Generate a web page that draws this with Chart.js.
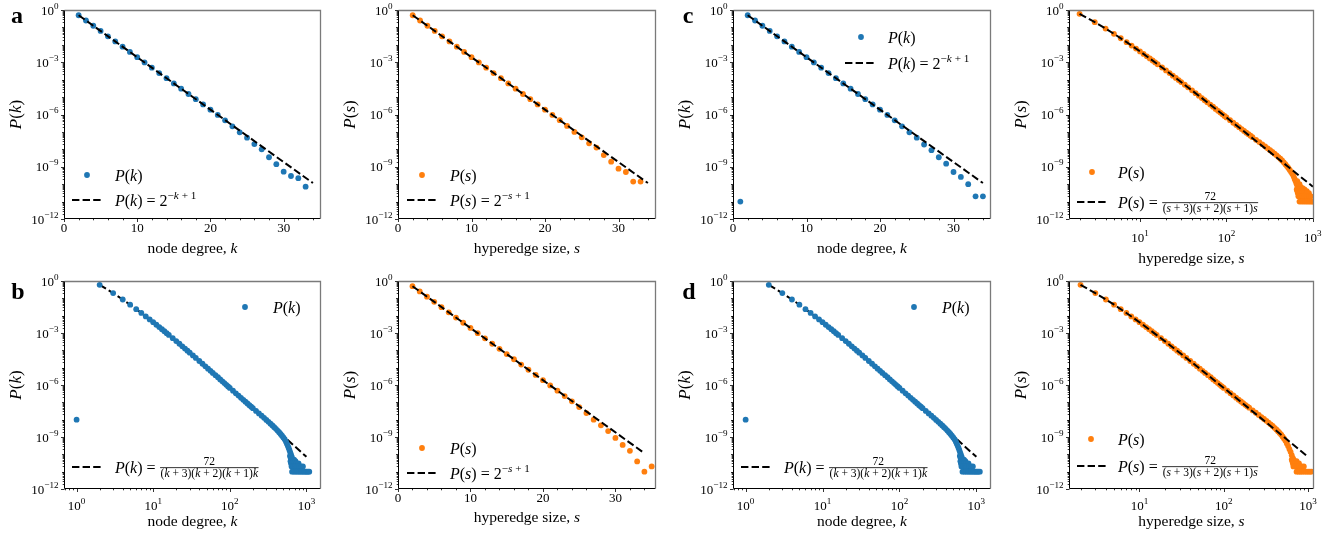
<!DOCTYPE html>
<html><head><meta charset="utf-8">
<script src="https://cdn.jsdelivr.net/npm/chart.js@4.4.1/dist/chart.umd.min.js"></script>
<style>
html,body{margin:0;padding:0;background:#fff;}
#wrap{position:relative;width:1338px;height:533px;overflow:hidden;background:#fff;}
canvas{position:absolute;}
</style></head><body><div id="wrap"></div>
<script>
// ================= DATA =================
// Panel a, node degree (linear x)
const aNodeDegree = [2,3,4,5,6,7,8,9,10,11,12,13,14,15,16,17,18,19,20,21,22,23,24,25,26,27,28,29,30,31,32,33];
const aNodeProb = [0.5,0.25,0.125,0.0625,0.031,0.0156,0.0078,0.0039,0.00195,9.8e-4,4.9e-4,2.4e-4,1.22e-4,6.1e-5,3.05e-5,1.5e-5,7.6e-6,3.8e-6,1.9e-6,9.4e-7,4.6e-7,2.1e-7,9.5e-8,4.7e-8,2.0e-8,1.0e-8,3.5e-9,1.4e-9,5.2e-10,2.95e-10,2.2e-10,7.2e-11];
// Panel a, hyperedge size (linear x)
const aHyperSize = [2,3,4,5,6,7,8,9,10,11,12,13,14,15,16,17,18,19,20,21,22,23,24,25,26,27,28,29,30,31,32,33];
const aHyperProb = [0.5,0.25,0.125,0.0625,0.031,0.0156,0.0078,0.0039,0.00195,9.8e-4,4.9e-4,2.4e-4,1.22e-4,6.1e-5,3.05e-5,1.5e-5,7.6e-6,3.8e-6,1.9e-6,9.5e-7,4.7e-7,2.2e-7,1.0e-7,4.9e-8,2.2e-8,1.26e-8,4.7e-9,1.95e-9,7.8e-10,5.0e-10,1.4e-10,1.4e-10];
// Panel c, node degree (linear x)
const cNodeDegree = [1,2,3,4,5,6,7,8,9,10,11,12,13,14,15,16,17,18,19,20,21,22,23,24,25,26,27,28,29,30,31,32,33,34];
const cNodeProb = [1e-11,0.5,0.25,0.125,0.0625,0.031,0.0156,0.0078,0.0039,0.00195,9.8e-4,4.9e-4,2.4e-4,1.22e-4,6.1e-5,3.05e-5,1.5e-5,7.6e-6,3.8e-6,1.9e-6,9.4e-7,4.6e-7,2.1e-7,9.5e-8,4.7e-8,1.9e-8,9.0e-9,3.5e-9,1.5e-9,5.0e-10,2.6e-10,1.0e-10,2.0e-11,2.0e-11];
// Panel b, hyperedge size (linear x)
const bHyperSize = [2,3,4,5,6,7,8,9,10,11,12,13,14,15,16,17,18,19,20,21,22,23,24,25,26,27,28,29,30,31,32,33,34,35];
const bHyperProb = [0.5,0.25,0.125,0.0625,0.031,0.0156,0.0078,0.0039,0.00195,9.8e-4,4.9e-4,2.4e-4,1.22e-4,6.1e-5,3.05e-5,1.5e-5,7.6e-6,3.8e-6,1.9e-6,9.5e-7,4.7e-7,2.3e-7,1.15e-7,5.3e-8,2.4e-8,1.0e-8,4.7e-9,2.2e-9,8.9e-10,3.5e-10,1.6e-10,3.9e-11,1.0e-11,2.0e-11];
// Panel b, node degree (log x)
const bNodeDegree = [1,2,3,4,5,6,7,8,9,10,11,12,13,14,15,16,18,20,22,24,26,28,30,33,36,40,44,48,52,56,60,65,70,75,80,85,90,95,100,110,120,130,140,150,160,170,180,190,200,220,240,260,280,300,320,340,360,380,400,420,440,460,480,500,520,540,555,570,585,600,615,630,645,660,610,625,640,690,620,650,680,720,630,660,700,740,790,640,670,710,750,800,850,900,650,690,730,770,810,850,890,930,970,1010,1050,1090];
const bNodeProb = [1e-8,0.6,0.2,0.0857,0.0429,0.0238,0.0143,9.1e-3,6.1e-3,4.2e-3,3.0e-3,2.2e-3,1.65e-3,1.26e-3,9.8e-4,7.7e-4,5.0e-4,3.4e-4,2.4e-4,1.7e-4,1.26e-4,9.5e-5,7.3e-5,5.1e-5,3.65e-5,2.43e-5,1.68e-5,1.2e-5,8.8e-6,6.6e-6,5.0e-6,3.7e-6,2.8e-6,2.1e-6,1.63e-6,1.29e-6,1.03e-6,8.3e-7,6.8e-7,4.7e-7,3.3e-7,2.45e-7,1.83e-7,1.4e-7,1.09e-7,8.6e-8,6.9e-8,5.6e-8,4.6e-8,3.2e-8,2.3e-8,1.7e-8,1.27e-8,9.7e-9,7.5e-9,5.9e-9,4.6e-9,3.7e-9,2.95e-9,2.35e-9,1.9e-9,1.5e-9,1.2e-9,9.5e-10,7.5e-10,5.5e-10,4.2e-10,3.2e-10,2.4e-10,1.8e-10,1.3e-10,9.5e-11,7e-11,5e-11,8e-11,6e-11,5e-11,5e-11,4e-11,4e-11,4e-11,4e-11,3e-11,3e-11,3e-11,3e-11,3e-11,2e-11,2e-11,2e-11,2e-11,2e-11,2e-11,2e-11,1e-11,1e-11,1e-11,1e-11,1e-11,1e-11,1e-11,1e-11,1e-11,1e-11,1e-11,1e-11];
// Panel d, node degree (log x)
const dNodeDegree = [1,2,3,4,5,6,7,8,9,10,11,12,13,14,15,16,18,20,22,24,26,28,30,33,36,40,44,48,52,56,60,65,70,75,80,85,90,95,100,110,120,130,140,150,160,170,180,190,200,220,240,260,280,300,320,340,360,380,400,420,440,460,480,500,520,540,555,570,585,600,615,630,645,660,610,625,640,690,620,650,680,720,630,660,700,740,790,640,670,710,750,800,850,900,660,700,740,780,820,860,900,940,980,1020,1060,1110];
const dNodeProb = [1e-8,0.6,0.2,0.0857,0.0429,0.0238,0.0143,9.1e-3,6.1e-3,4.2e-3,3.0e-3,2.2e-3,1.65e-3,1.26e-3,9.8e-4,7.7e-4,5.0e-4,3.4e-4,2.4e-4,1.7e-4,1.26e-4,9.5e-5,7.3e-5,5.1e-5,3.65e-5,2.43e-5,1.68e-5,1.2e-5,8.8e-6,6.6e-6,5.0e-6,3.7e-6,2.8e-6,2.1e-6,1.63e-6,1.29e-6,1.03e-6,8.3e-7,6.8e-7,4.7e-7,3.3e-7,2.45e-7,1.83e-7,1.4e-7,1.09e-7,8.6e-8,6.9e-8,5.6e-8,4.6e-8,3.2e-8,2.3e-8,1.7e-8,1.27e-8,9.7e-9,7.5e-9,5.9e-9,4.6e-9,3.7e-9,2.95e-9,2.35e-9,1.9e-9,1.5e-9,1.2e-9,9.5e-10,7.5e-10,5.5e-10,4.2e-10,3.2e-10,2.4e-10,1.8e-10,1.3e-10,9.5e-11,7e-11,5e-11,8e-11,6e-11,5e-11,5e-11,4e-11,4e-11,4e-11,4e-11,3e-11,3e-11,3e-11,3e-11,3e-11,2e-11,2e-11,2e-11,2e-11,2e-11,2e-11,2e-11,1e-11,1e-11,1e-11,1e-11,1e-11,1e-11,1e-11,1e-11,1e-11,1e-11,1e-11,1e-11];
// Panel c, hyperedge size (log x)
const cHyperSize = [2,3,4,5,6,7,8,9,10,11,12,13,14,15,16,18,20,22,24,26,28,30,33,36,40,44,48,52,56,60,65,70,75,80,85,90,95,100,110,120,130,140,150,160,170,180,190,200,220,240,260,280,300,320,340,360,380,400,420,440,460,480,500,520,540,560,580,600,615,630,645,660,675,690,660,700,720,760,800,850,900,650,680,720,660,700,740,780,670,710,750,800,850,680,720,760,800,850,900,950,700,740,780,820,860,900,940,980,1010];
const cHyperProb = [0.6,0.2,0.0857,0.0429,0.0238,0.0143,9.1e-3,6.1e-3,4.2e-3,3.0e-3,2.2e-3,1.65e-3,1.26e-3,9.8e-4,7.7e-4,5.0e-4,3.4e-4,2.4e-4,1.7e-4,1.26e-4,9.5e-5,7.3e-5,5.1e-5,3.65e-5,2.43e-5,1.68e-5,1.2e-5,8.8e-6,6.6e-6,5.0e-6,3.7e-6,2.8e-6,2.1e-6,1.63e-6,1.29e-6,1.03e-6,8.3e-7,6.8e-7,4.7e-7,3.35e-7,2.5e-7,1.88e-7,1.45e-7,1.14e-7,9.1e-8,7.4e-8,6.1e-8,5.0e-8,3.5e-8,2.6e-8,1.95e-8,1.48e-8,1.15e-8,9.0e-9,7.1e-9,5.6e-9,4.5e-9,3.6e-9,2.9e-9,2.3e-9,1.8e-9,1.4e-9,1.1e-9,8.5e-10,6.5e-10,5.0e-10,3.8e-10,2.8e-10,2.0e-10,1.5e-10,1.1e-10,8e-11,6e-11,4.5e-11,1.5e-10,1.0e-10,7e-11,6e-11,5e-11,4e-11,3e-11,5e-11,5e-11,5e-11,4e-11,4e-11,4e-11,4e-11,3e-11,3e-11,3e-11,3e-11,3e-11,2e-11,2e-11,2e-11,2e-11,2e-11,2e-11,2e-11,1e-11,1e-11,1e-11,1e-11,1e-11,1e-11,1e-11,1e-11,1e-11];
// Panel d, hyperedge size (log x)
const dHyperSize = [2,3,4,5,6,7,8,9,10,11,12,13,14,15,16,18,20,22,24,26,28,30,33,36,40,44,48,52,56,60,65,70,75,80,85,90,95,100,110,120,130,140,150,160,170,180,190,200,220,240,260,280,300,320,340,360,380,400,420,440,460,480,500,520,540,560,580,600,620,640,660,640,670,650,690,730,660,700,740,780,670,710,750,790,840,890,730,770,810,850,900,950,1000,1050,1100];
const dHyperProb = [0.6,0.2,0.0857,0.0429,0.0238,0.0143,9.1e-3,6.1e-3,4.2e-3,3.0e-3,2.2e-3,1.65e-3,1.26e-3,9.8e-4,7.7e-4,5.0e-4,3.4e-4,2.4e-4,1.7e-4,1.26e-4,9.5e-5,7.3e-5,5.1e-5,3.65e-5,2.43e-5,1.68e-5,1.2e-5,8.8e-6,6.6e-6,5.0e-6,3.7e-6,2.8e-6,2.1e-6,1.63e-6,1.29e-6,1.03e-6,8.3e-7,6.8e-7,4.7e-7,3.35e-7,2.5e-7,1.86e-7,1.43e-7,1.12e-7,8.9e-8,7.2e-8,5.9e-8,4.9e-8,3.4e-8,2.5e-8,1.88e-8,1.42e-8,1.1e-8,8.6e-9,6.8e-9,5.4e-9,4.3e-9,3.4e-9,2.7e-9,2.15e-9,1.7e-9,1.35e-9,1.05e-9,8e-10,6e-10,4.2e-10,3e-10,2e-10,1.4e-10,9e-11,6e-11,5e-11,5e-11,4e-11,4e-11,4e-11,3e-11,3e-11,3e-11,3e-11,2e-11,2e-11,2e-11,2e-11,2e-11,2e-11,1e-11,1e-11,1e-11,1e-11,1e-11,1e-11,1e-11,1e-11,1e-11];
// Fitted curves: P = 2^(-k+1) (straight on log-y) and P = 72/((k+3)(k+2)(k+1)k)
const expFitX = [2, 34];
const expFitY = [0.5, 1.16e-10];
const ratFitX = [2,3,4,5,7,10,20,50,100,200,500,1000];
const ratFitY = [0.6,0.2,0.0857,0.0429,0.0143,4.2e-3,3.39e-4,1.02e-5,6.79e-7,4.37e-8,1.14e-9,7.16e-11];
// Tick labels
const yTickExps = [0,-3,-6,-9,-12];
const xLinTicks = [0,10,20,30];
const xLogTickExps = [0,1,2,3];

// ================= RENDERING =================
const BLUE = '#1f77b4', ORANGE = '#ff7f0e';
const SERIF = "'Liberation Serif','DejaVu Serif','Times New Roman',serif";
const TICK = 13, LEG = 16, TITLE = 15.5, YTITLE = 17;
function fnt(sz, it, b){ return (it?'italic ':'') + (b?'bold ':'') + sz + 'px ' + SERIF; }
function rich(ctx, segs, x, y, size, draw) {
  let cx = x;
  for (const s of segs) {
    if (s.frac) {
      const fs = size * 0.72;
      ctx.font = fnt(fs, false);
      const nw = ctx.measureText(s.frac[0]).width;
      const dw = rich(ctx, s.frac[1], 0, 0, fs, false);
      const fw = Math.max(nw, dw) + 2;
      if (draw) {
        const ax = y - size * 0.3;
        ctx.font = fnt(fs, false);
        ctx.fillText(s.frac[0], cx + (fw - nw) / 2, ax - fs * 0.25);
        ctx.fillRect(cx + 0.5, ax - 0.4, fw - 1, 0.8);
        rich(ctx, s.frac[1], cx + (fw - dw) / 2, ax + fs * 0.82, fs, true);
      }
      cx += fw;
    } else {
      const fs = s.sup ? size * 0.7 : size;
      ctx.font = fnt(fs, s.i);
      const w = ctx.measureText(s.t).width;
      if (draw) ctx.fillText(s.t, cx, s.sup ? y - size * 0.42 : y);
      cx += w;
    }
  }
  return cx - x;
}
const PofK = [{t:'P',i:1},{t:'('},{t:'k',i:1},{t:')'}];
const PofS = [{t:'P',i:1},{t:'('},{t:'s',i:1},{t:')'}];
function expLabel(P, v){ return [...P, {t:' = '}, {t:'2'}, {t:'\u2212',sup:1}, {t:v,i:1,sup:1}, {t:' + 1',sup:1}]; }
function fracLabel(P, v){ return [...P, {t:' = '}, {frac:['72', [{t:'('},{t:v,i:1},{t:' + 3)('},{t:v,i:1},{t:' + 2)('},{t:v,i:1},{t:' + 1)'},{t:v,i:1}]]}]; }

function drawPow(ctx, e, x, y, align, size) {
  const base = '10', ex = (e < 0 ? '\u2212' : '') + Math.abs(e);
  ctx.font = fnt(size); const bw = ctx.measureText(base).width;
  ctx.font = fnt(size * 0.7); const ew = ctx.measureText(ex).width;
  const tw = bw + ew;
  let x0 = align === 'right' ? x - tw : x - tw / 2;
  ctx.font = fnt(size); ctx.fillText(base, x0, y);
  ctx.font = fnt(size * 0.7); ctx.fillText(ex, x0 + bw, y - size * 0.45);
}

const mplPlugin = {
  id: 'mpl',
  afterDraw(chart) {
    const p = chart.options.plugins.mpl;
    const ctx = chart.ctx, ca = chart.chartArea, xs = chart.scales.x, ys = chart.scales.y;
    ctx.save();
    ctx.fillStyle = '#000'; ctx.textAlign = 'left'; ctx.textBaseline = 'alphabetic';
    const L = Math.round(ca.left) + 0.5, R = Math.round(ca.right) - 0.5, T = Math.round(ca.top) + 0.5, B = Math.round(ca.bottom) - 0.5;
    // legend
    const lg = p.legend;
    ctx.fillStyle = p.color;
    ctx.beginPath(); ctx.arc(ca.left + lg.dot[0], ca.top + lg.dot[1], 2.9, 0, Math.PI * 2); ctx.fill();
    ctx.fillStyle = '#000';
    rich(ctx, p.lab1, ca.left + lg.t1x, ca.top + lg.dot[1] + 5.5, LEG, true);
    ctx.strokeStyle = '#000'; ctx.lineWidth = 2; ctx.setLineDash([7.4, 3.2]);
    ctx.beginPath(); ctx.moveTo(ca.left + lg.dash[0], ca.top + lg.dash[2]); ctx.lineTo(ca.left + lg.dash[1], ca.top + lg.dash[2]); ctx.stroke();
    ctx.setLineDash([]);
    rich(ctx, p.lab2, ca.left + lg.t2x, ca.top + lg.dash[2] + 5.5, LEG, true);
    // spines
    ctx.lineWidth = 1; ctx.strokeStyle = '#000';
    ctx.beginPath(); ctx.moveTo(L, T); ctx.lineTo(L, B); ctx.lineTo(R, B); ctx.stroke();
    ctx.strokeStyle = '#7a7a7a'; ctx.lineWidth = 1.3;
    ctx.beginPath(); ctx.moveTo(L, T); ctx.lineTo(R, T); ctx.lineTo(R, B); ctx.stroke();
    // y ticks
    ctx.strokeStyle = '#000'; ctx.lineWidth = 0.8;
    for (let e = 0; e >= -12; e--) {
      for (let m = 1; m <= 9; m++) {
        const v = m * Math.pow(10, e);
        if (v > 1.0001 || v < 0.999e-12) continue;
        const py = Math.round(ys.getPixelForValue(v)) + 0.5;
        const len = (m === 1 && e % 3 === 0) ? 3.5 : (m === 1 ? 2.5 : 1.8);
        ctx.beginPath(); ctx.moveTo(L, py); ctx.lineTo(L - len, py); ctx.stroke();
      }
    }
    ctx.fillStyle = '#000';
    for (const e of yTickExps) drawPow(ctx, e, L - 6, ys.getPixelForValue(Math.pow(10, e)) + 4.5, 'right', TICK);
    // x ticks
    if (p.xLog) {
      for (let e = -1; e <= 3; e++) for (let m = 1; m <= 9; m++) {
        const v = m * Math.pow(10, e);
        if (v < xs.min || v > xs.max) continue;
        const px = Math.round(xs.getPixelForValue(v)) + 0.5;
        const len = m === 1 ? 3.5 : 1.8;
        ctx.beginPath(); ctx.moveTo(px, B); ctx.lineTo(px, B + len); ctx.stroke();
      }
      for (const e of xLogTickExps) {
        const v = Math.pow(10, e); if (v < xs.min || v > xs.max) continue;
        drawPow(ctx, e, xs.getPixelForValue(v), B + p.xLabOff, 'center', TICK);
      }
    } else {
      for (let v = 0; v <= xs.max; v += 2) {
        const px = Math.round(xs.getPixelForValue(v)) + 0.5;
        const len = v % 10 === 0 ? 3.5 : 1.8;
        ctx.beginPath(); ctx.moveTo(px, B); ctx.lineTo(px, B + len); ctx.stroke();
      }
      ctx.font = fnt(TICK); ctx.textAlign = 'center';
      for (const v of xLinTicks) ctx.fillText(String(v), xs.getPixelForValue(v), B + p.xLabOff);
      ctx.textAlign = 'left';
    }
    // x title
    const xt = p.xTitle;
    const xw = rich(ctx, xt, 0, 0, TITLE, false);
    rich(ctx, xt, (ca.left + ca.right) / 2 - xw / 2, B + p.xTitleOff, TITLE, true);
    // y title
    ctx.save();
    ctx.translate(ca.left - 43, (ca.top + ca.bottom) / 2);
    ctx.rotate(-Math.PI / 2);
    const yw = rich(ctx, p.yTitle, 0, 0, YTITLE, false);
    rich(ctx, p.yTitle, -yw / 2, 0, YTITLE, true);
    ctx.restore();
    // panel letter
    if (p.letter) {
      ctx.font = fnt(24, false, true); ctx.textAlign = 'center';
      ctx.fillText(p.letter, p.letterX, p.letterY);
    }
    ctx.restore();
  }
};

const cols = [{cl:0, cw:335, left:64, right:321}, {cl:335, cw:335, left:398, right:656}, {cl:670, cw:335, left:733, right:991}, {cl:1005, cw:333, left:1069, right:1314}];
const rows = [{ct:0, ch:266, top:10, bottom:219}, {ct:266, ch:267, top:281, bottom:489}];

function pts(xs, ys) { return xs.map((x, i) => ({x: x, y: ys[i]})); }
const nodeTitle = [{t:'node degree, '},{t:'k',i:1}];
const hyperTitle = [{t:'hyperedge size, '},{t:'s',i:1}];

const panels = [
  {col:0,row:0, xs:aNodeDegree, ys:aNodeProb, fx:expFitX, fy:expFitY, color:BLUE, xLog:false, xmin:0, xmax:35.1, lineTop:true,
   lab1:PofK, lab2:expLabel(PofK,'k'), xTitle:nodeTitle, yTitle:PofK, letter:'a', letterX:17, letterY:23,
   legend:{dot:[23,165], t1x:51, dash:[8,38,190], t2x:51}},
  {col:1,row:0, xs:aHyperSize, ys:aHyperProb, fx:expFitX, fy:expFitY, color:ORANGE, xLog:false, xmin:0, xmax:35.1, lineTop:true,
   lab1:PofS, lab2:expLabel(PofS,'s'), xTitle:hyperTitle, yTitle:PofS,
   legend:{dot:[24,165], t1x:52, dash:[9,39,190], t2x:52}},
  {col:2,row:0, xs:cNodeDegree, ys:cNodeProb, fx:expFitX, fy:expFitY, color:BLUE, xLog:false, xmin:0, xmax:35.1, lineTop:true,
   lab1:PofK, lab2:expLabel(PofK,'k'), xTitle:nodeTitle, yTitle:PofK, letter:'c', letterX:18, letterY:23,
   legend:{dot:[128,27], t1x:155, dash:[112,142,53], t2x:155}},
  {col:3,row:0, xs:cHyperSize, ys:cHyperProb, fx:ratFitX, fy:ratFitY, color:ORANGE, xLog:true, xmin:1.51, xmax:1030, lineTop:true,
   lab1:PofS, lab2:fracLabel(PofS,'s'), xTitle:hyperTitle, yTitle:PofS,
   legend:{dot:[23,162], t1x:49, dash:[8,39,192], t2x:49}},
  {col:0,row:1, xs:bNodeDegree, ys:bNodeProb, fx:ratFitX, fy:ratFitY, color:BLUE, xLog:true, xmin:0.685, xmax:1550, lineTop:false,
   lab1:PofK, lab2:fracLabel(PofK,'k'), xTitle:nodeTitle, yTitle:PofK, letter:'b', letterX:18, letterY:33,
   legend:{dot:[181,26], t1x:209, dash:[8,38,186], t2x:51}},
  {col:1,row:1, xs:bHyperSize, ys:bHyperProb, fx:expFitX, fy:expFitY, color:ORANGE, xLog:false, xmin:0, xmax:35.6, lineTop:true,
   lab1:PofS, lab2:expLabel(PofS,'s'), xTitle:hyperTitle, yTitle:PofS,
   legend:{dot:[24,167], t1x:52, dash:[9,39,192], t2x:52}},
  {col:2,row:1, xs:dNodeDegree, ys:dNodeProb, fx:ratFitX, fy:ratFitY, color:BLUE, xLog:true, xmin:0.685, xmax:1550, lineTop:false,
   lab1:PofK, lab2:fracLabel(PofK,'k'), xTitle:nodeTitle, yTitle:PofK, letter:'d', letterX:19, letterY:33,
   legend:{dot:[181,26], t1x:209, dash:[8,38,186], t2x:51}},
  {col:3,row:1, xs:dHyperSize, ys:dHyperProb, fx:ratFitX, fy:ratFitY, color:ORANGE, xLog:true, xmin:1.46, xmax:1175, lineTop:true,
   lab1:PofS, lab2:fracLabel(PofS,'s'), xTitle:hyperTitle, yTitle:PofS,
   legend:{dot:[22,158], t1x:49, dash:[8,39,185], t2x:49}}
];

const wrap = document.getElementById('wrap');
panels.forEach((p) => {
  const c = cols[p.col], r = rows[p.row];
  const cv = document.createElement('canvas');
  cv.width = c.cw; cv.height = r.ch;
  cv.style.left = c.cl + 'px'; cv.style.top = r.ct + 'px';
  cv.style.width = c.cw + 'px'; cv.style.height = r.ch + 'px';
  wrap.appendChild(cv);
  const yW = c.left - c.cl, padR = c.cw - (c.right - c.cl), padT = r.top - r.ct, xH = r.ch - (r.bottom - r.ct);
  const pointsDs = {data: pts(p.xs, p.ys), showLine:false, pointRadius:2.9, pointHoverRadius:2.9,
    pointBackgroundColor:p.color, pointBorderColor:p.color, pointBorderWidth:0, clip:0};
  const lineDs = {data: pts(p.fx, p.fy), showLine:true, pointRadius:0, pointHoverRadius:0, borderColor:'#000',
    borderWidth:2, borderDash:[7.4,3.2], tension:0, fill:false, clip:0};
  const datasets = p.lineTop ? [lineDs, pointsDs] : [pointsDs, lineDs];
  const isTop = p.row === 0;
  p.xLabOff = p.xLog ? (isTop ? 23 : 21) : (isTop ? 13.5 : 13);
  p.xTitleOff = p.xLog ? (isTop ? 44 : 37) : (isTop ? 34 : 33);
  new Chart(cv, {
    type: 'scatter',
    data: {datasets},
    options: {
      responsive:false, animation:false, devicePixelRatio:1,
      events: [],
      layout:{padding:{left:0, top:padT, right:padR, bottom:0}},
      plugins:{legend:{display:false}, tooltip:{enabled:false}, title:{display:false}, mpl:p},
      scales:{
        x:{type: p.xLog ? 'logarithmic' : 'linear', min:p.xmin, max:p.xmax, bounds:'data',
           grid:{display:false}, border:{display:false}, ticks:{display:false},
           afterFit:(s)=>{ s.height = xH; }},
        y:{type:'logarithmic', min:1e-12, max:1, bounds:'data',
           grid:{display:false}, border:{display:false}, ticks:{display:false},
           afterFit:(s)=>{ s.width = yW; }}
      }
    },
    plugins:[mplPlugin]
  });
});
</script>
</body></html>
